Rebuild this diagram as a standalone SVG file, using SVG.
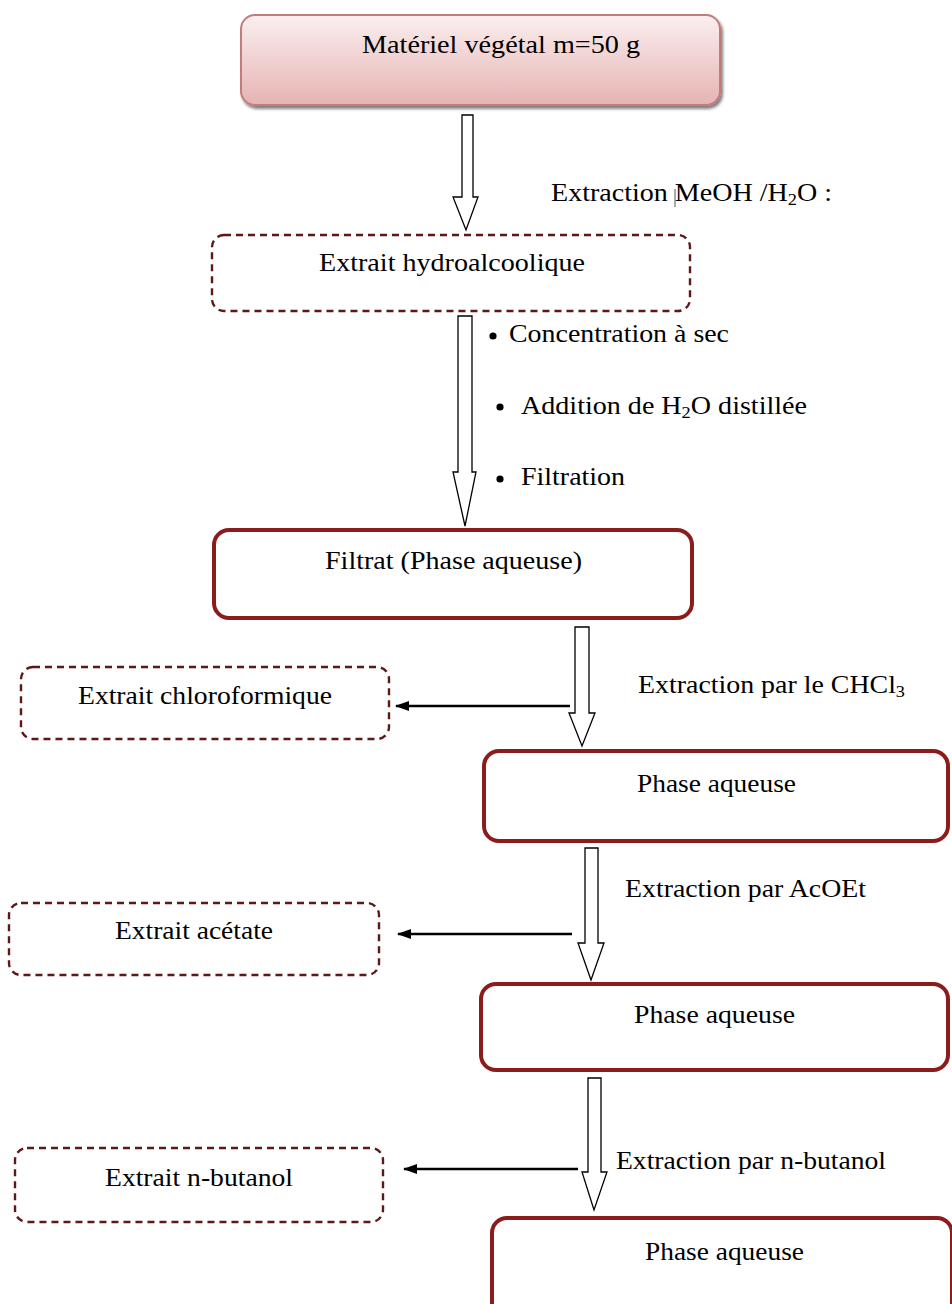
<svg xmlns="http://www.w3.org/2000/svg" width="952" height="1304" viewBox="0 0 952 1304">
<defs>
<linearGradient id="pinkGrad" x1="0" y1="0" x2="0" y2="1">
<stop offset="0" stop-color="#fbefef"/>
<stop offset="1" stop-color="#e6b3b3"/>
</linearGradient>
<marker id="arrowHead" markerWidth="14" markerHeight="10" refX="13" refY="5" orient="auto" markerUnits="userSpaceOnUse">
<path d="M0,0 L14,5 L0,10 Z" fill="#000"/>
</marker>
<filter id="shadow" x="-5%" y="-10%" width="110%" height="130%">
<feGaussianBlur in="SourceAlpha" stdDeviation="1.5"/>
<feOffset dx="2" dy="3" result="b"/>
<feComponentTransfer><feFuncA type="linear" slope="0.5"/></feComponentTransfer>
<feMerge><feMergeNode/><feMergeNode in="SourceGraphic"/></feMerge>
</filter>
</defs>
<style>
text{font-family:"Liberation Serif","Times New Roman",serif;font-size:26px;fill:#000}
.sub{font-size:17px}
.dashed{fill:#fff;stroke:#5e1818;stroke-width:2.4;stroke-dasharray:7 5}
.solid{fill:#fff;stroke:#8b1c1c;stroke-width:4}
.hollow{fill:#fff;stroke:#000;stroke-width:1.3;stroke-linejoin:miter}
.side{stroke:#000;stroke-width:2.6;fill:none}
</style>
<rect width="952" height="1304" fill="#fff"/>

<g id="node-materiel">
<rect x="241" y="15" width="479" height="90" rx="14" fill="url(#pinkGrad)" stroke="#c27c7c" stroke-width="2" filter="url(#shadow)"/>
<text x="362" y="53" textLength="278" lengthAdjust="spacingAndGlyphs">Matériel végétal m=50 g</text>
</g>

<g id="node-hydroalcoolique">
<rect class="dashed" x="212" y="235" width="478" height="76" rx="12"/>
<text x="319" y="271" textLength="266" lengthAdjust="spacingAndGlyphs">Extrait hydroalcoolique</text>
</g>

<g id="node-filtrat">
<rect class="solid" x="214" y="530" width="478" height="88" rx="15"/>
<text x="325" y="569" textLength="257" lengthAdjust="spacingAndGlyphs">Filtrat (Phase aqueuse)</text>
</g>

<g id="node-chloroformique">
<rect class="dashed" x="21" y="667" width="368" height="72" rx="12"/>
<text x="78" y="704" textLength="254" lengthAdjust="spacingAndGlyphs">Extrait chloroformique</text>
</g>

<g id="node-phase1">
<rect class="solid" x="484" y="751" width="464" height="90" rx="15"/>
<text x="637" y="792" textLength="159" lengthAdjust="spacingAndGlyphs">Phase aqueuse</text>
</g>

<g id="node-acetate">
<rect class="dashed" x="9" y="903" width="370" height="72" rx="12"/>
<text x="115" y="939" textLength="158" lengthAdjust="spacingAndGlyphs">Extrait acétate</text>
</g>

<g id="node-phase2">
<rect class="solid" x="481" y="984" width="467" height="86" rx="15"/>
<text x="634" y="1023" textLength="161" lengthAdjust="spacingAndGlyphs">Phase aqueuse</text>
</g>

<g id="node-butanol">
<rect class="dashed" x="15" y="1148" width="368" height="74" rx="12"/>
<text x="105" y="1186" textLength="188" lengthAdjust="spacingAndGlyphs">Extrait n-butanol</text>
</g>

<g id="node-phase3">
<rect class="solid" x="492" y="1218" width="460" height="110" rx="15"/>
<text x="645" y="1260" textLength="159" lengthAdjust="spacingAndGlyphs">Phase aqueuse</text>
</g>

<g id="connectors">
<polygon class="hollow" points="462,115 473,115 473,197 478,197 466,230 453,197 462,197"/>
<polygon class="hollow" points="458,316 472,316 472,472 476,472 465,526 453,472 458,472"/>
<polygon class="hollow" points="575,627 589,627 589,713 595,713 582,746 569,713 575,713"/>
<polygon class="hollow" points="585,848 598,848 598,943 604,943 591,980 578,943 585,943"/>
<polygon class="hollow" points="588,1078 601,1078 601,1172 607,1172 594,1210 582,1172 588,1172"/>
<line class="side" x1="570" y1="706" x2="396" y2="706" marker-end="url(#arrowHead)"/>
<line class="side" x1="572" y1="934" x2="398" y2="934" marker-end="url(#arrowHead)"/>
<line class="side" x1="578" y1="1169" x2="404" y2="1169" marker-end="url(#arrowHead)"/>
</g>

<g id="labels">
<text x="551" y="201" textLength="281" lengthAdjust="spacingAndGlyphs">Extraction MeOH /H<tspan class="sub" dy="4">2</tspan><tspan dy="-4">O :</tspan></text>
<line x1="675" y1="189" x2="675" y2="207" stroke="#555" stroke-width="1"/>
<circle cx="493" cy="336" r="3.6" fill="#000"/>
<text x="509" y="342" textLength="220" lengthAdjust="spacingAndGlyphs">Concentration à sec</text>
<circle cx="500" cy="407" r="3.6" fill="#000"/>
<text x="521" y="414" textLength="286" lengthAdjust="spacingAndGlyphs">Addition de H<tspan class="sub" dy="4">2</tspan><tspan dy="-4">O distillée</tspan></text>
<circle cx="500" cy="479" r="3.6" fill="#000"/>
<text x="521" y="485" textLength="104" lengthAdjust="spacingAndGlyphs">Filtration</text>
<text x="638" y="693" textLength="267" lengthAdjust="spacingAndGlyphs">Extraction par le CHCl<tspan class="sub" dy="4">3</tspan></text>
<text x="625" y="897" textLength="241" lengthAdjust="spacingAndGlyphs">Extraction par AcOEt</text>
<text x="616" y="1169" textLength="270" lengthAdjust="spacingAndGlyphs">Extraction par n-butanol</text>
</g>
</svg>
